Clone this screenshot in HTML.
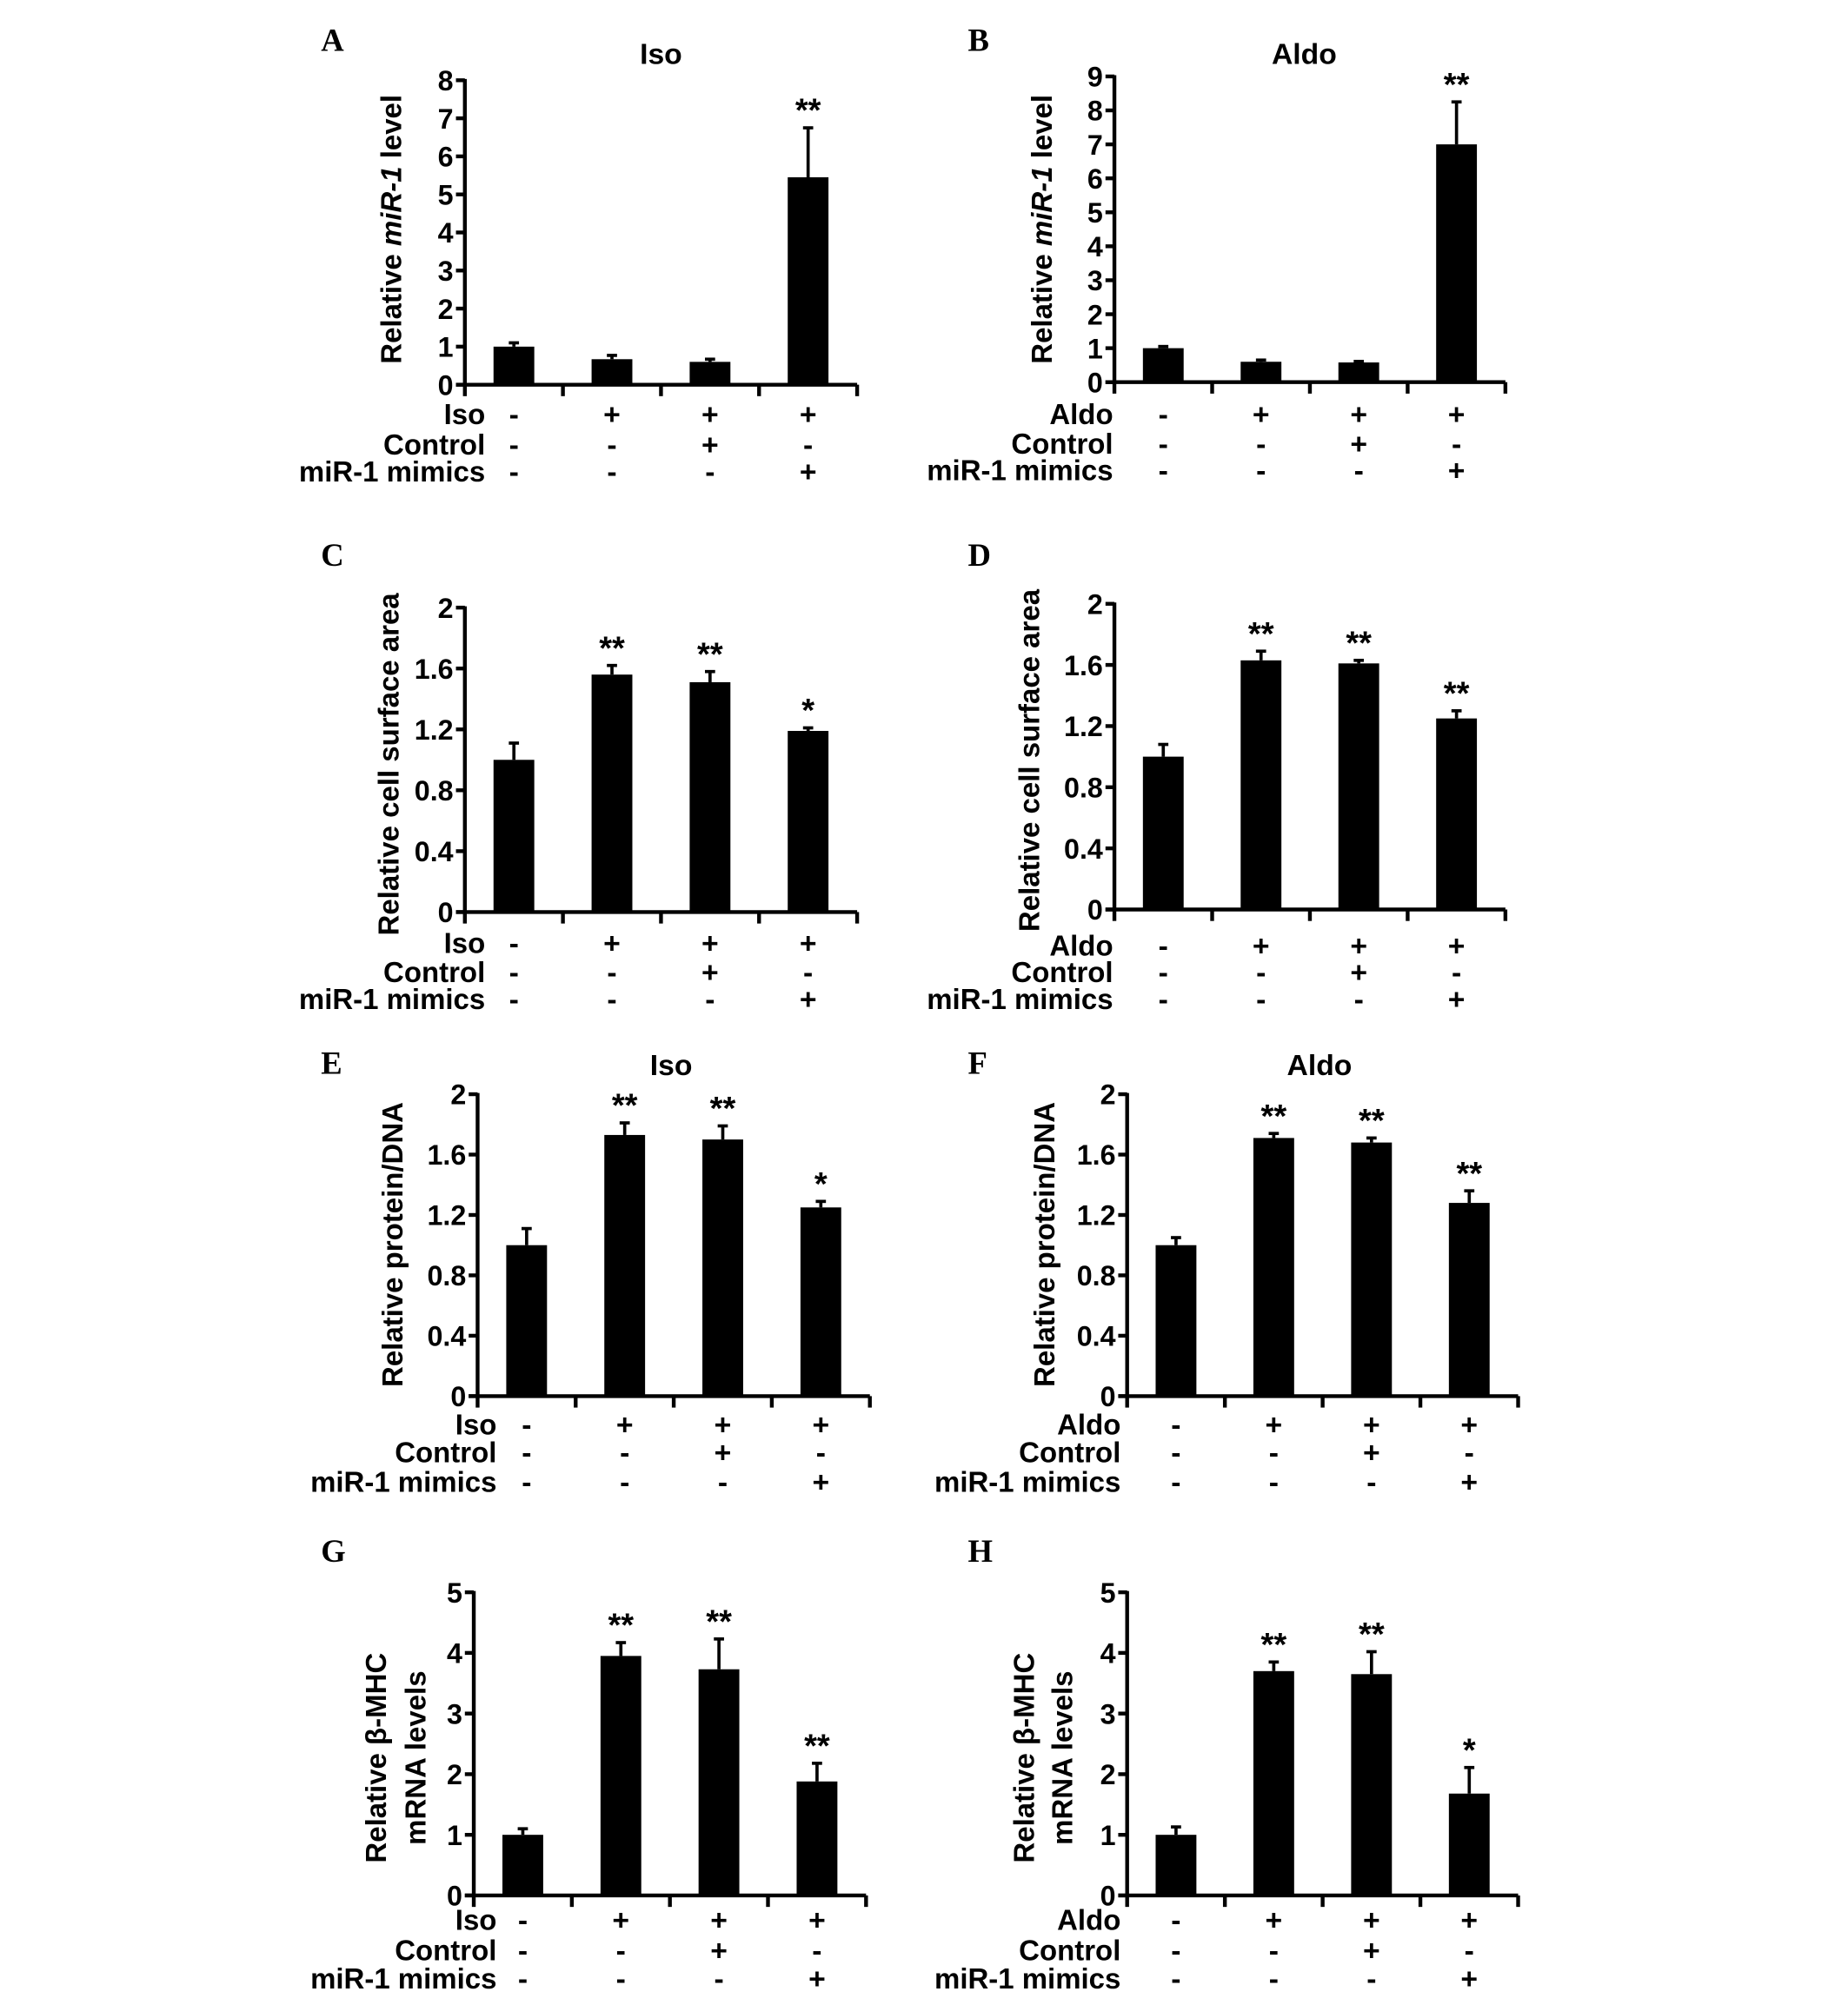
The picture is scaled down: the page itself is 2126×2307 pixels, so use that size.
<!DOCTYPE html>
<html><head><meta charset="utf-8"><style>
html,body{margin:0;padding:0;background:#fff}
svg{display:block}
text{font-family:"Liberation Sans",Arial,sans-serif;font-weight:bold;fill:#000}
.lt{font-family:"Liberation Serif",serif;font-size:25px}
</style></head><body>
<svg id="fig" width="2126" height="2307" viewBox="0 0 1451 1574" preserveAspectRatio="none" xmlns="http://www.w3.org/2000/svg"></svg>
<script>
// ---- data ----
const panelLetters = ["A","B","C","D","E","F","G","H"];
const valuesA = [1.0,0.67,0.6,5.45], errorsA=[0.1,0.1,0.07,1.3], starsA=["","","","**"];
const valuesB = [1.0,0.6,0.58,7.0], errorsB=[0.05,0.05,0.03,1.25], starsB=["","","","**"];
const valuesC = [1.0,1.56,1.51,1.19], errorsC=[0.11,0.06,0.07,0.02], starsC=["","**","**","*"];
const valuesD = [1.0,1.63,1.61,1.25], errorsD=[0.08,0.06,0.02,0.05], starsD=["","**","**","**"];
const valuesE = [1.0,1.73,1.7,1.25], errorsE=[0.11,0.08,0.09,0.04], starsE=["","**","**","*"];
const valuesF = [1.0,1.71,1.68,1.28], errorsF=[0.05,0.03,0.03,0.08], starsF=["","**","**","**"];
const valuesG = [1.0,3.95,3.73,1.88], errorsG=[0.1,0.22,0.5,0.3], starsG=["","**","**","**"];
const valuesH = [1.0,3.7,3.65,1.68], errorsH=[0.13,0.15,0.37,0.43], starsH=["","**","**","*"];
const ticks8 = ["0","1","2","3","4","5","6","7","8"];
const ticks9 = ["0","1","2","3","4","5","6","7","8","9"];
const ticks2 = ["0","0.4","0.8","1.2","1.6","2"];
const ticks5 = ["0","1","2","3","4","5"];
const row2 = ["-","-","+","-"], row3 = ["-","-","-","+"], row1 = ["-","+","+","+"];

const NS="http://www.w3.org/2000/svg";
const svg=document.getElementById('fig');
function mk(tag,attrs,parent,txt){const e=document.createElementNS(NS,tag);for(const k in attrs)e.setAttribute(k,attrs[k]);if(txt!==undefined)e.textContent=txt;(parent||svg).appendChild(e);return e;}

const panels=[
 {id:"a",L:"A",lx:252,ly:40,ax:365,y0:302,yt:63,xe:673,max:8,ticks:ticks8,vals:valuesA,errs:errorsA,stars:starsA,title:"Iso",tx:519,ty:50,yl:["Relative miR-1 level"],ylx:[307],yly:180,tr:"Iso",rx:381,ry:[325,349,370],c0:402},
 {id:"b",L:"B",lx:760,ly:40,ax:875,y0:300,yt:60,xe:1182,max:9,ticks:ticks9,vals:valuesB,errs:errorsB,stars:starsB,title:"Aldo",tx:1024,ty:50,yl:["Relative miR-1 level"],ylx:[818],yly:180,tr:"Aldo",rx:874,ry:[325,348,369],c0:910},
 {id:"c",L:"C",lx:252,ly:444,ax:365,y0:716,yt:477,xe:673,max:2,ticks:ticks2,vals:valuesC,errs:errorsC,stars:starsC,yl:["Relative cell surface area"],ylx:[305],yly:600,tr:"Iso",rx:381,ry:[740,763,784],c0:402},
 {id:"d",L:"D",lx:760,ly:444,ax:875,y0:714,yt:474,xe:1182,max:2,ticks:ticks2,vals:valuesD,errs:errorsD,stars:starsD,yl:["Relative cell surface area"],ylx:[808],yly:597,tr:"Aldo",rx:874,ry:[742,763,784],c0:910},
 {id:"e",L:"E",lx:252,ly:843,ax:375,y0:1096,yt:859,xe:683,max:2,ticks:ticks2,vals:valuesE,errs:errorsE,stars:starsE,title:"Iso",tx:527,ty:844,yl:["Relative protein/DNA"],ylx:[308],yly:977,tr:"Iso",rx:390,ry:[1118,1140,1163],c0:413},
 {id:"f",L:"F",lx:760,ly:843,ax:885,y0:1096,yt:859,xe:1192,max:2,ticks:ticks2,vals:valuesF,errs:errorsF,stars:starsF,title:"Aldo",tx:1036,ty:844,yl:["Relative protein/DNA"],ylx:[820],yly:977,tr:"Aldo",rx:880,ry:[1118,1140,1163],c0:924},
 {id:"g",L:"G",lx:252,ly:1226,ax:372,y0:1488,yt:1250,xe:680,max:5,ticks:ticks5,vals:valuesG,errs:errorsG,stars:starsG,yl:["Relative β-MHC","mRNA levels"],ylx:[295,326],yly:1380,tr:"Iso",rx:390,ry:[1507,1531,1553],c0:408},
 {id:"h",L:"H",lx:760,ly:1226,ax:885,y0:1488,yt:1250,xe:1192,max:5,ticks:ticks5,vals:valuesH,errs:errorsH,stars:starsH,yl:["Relative β-MHC","mRNA levels"],ylx:[804,834],yly:1380,tr:"Aldo",rx:880,ry:[1507,1531,1553],c0:922}
];

panels.forEach(p=>{
 const g=mk('g',{});
 
 
 const yS=v=>p.y0-(v/p.max)*(p.y0-p.yt);
 const step=(p.xe-p.ax)/4;
 const xS=i=>p.ax+step*(i+0.5);
 const lt=mk('text',{x:p.lx,y:p.ly,class:'lt'},g,p.L);
 
 
 if(p.title){const t=mk('text',{x:p.tx,y:p.ty,'text-anchor':'middle','font-size':23},g,p.title);
  
  }
 const ya=mk('line',{x1:p.ax,y1:p.yt-1,x2:p.ax,y2:p.y0+1,stroke:'#000','stroke-width':3},g);
 
 
 const xa=mk('line',{x1:p.ax-7,y1:p.y0,x2:p.xe,y2:p.y0,stroke:'#000','stroke-width':3},g);
 
 
 for(let i=0;i<=4;i++){mk('line',{x1:p.ax+step*i,y1:p.y0,x2:p.ax+step*i,y2:p.y0+9,stroke:'#000','stroke-width':3},g);}
 p.ticks.forEach((t,i)=>{
  const v=parseFloat(t), y=yS(v);
  mk('line',{x1:p.ax-7,y1:y,x2:p.ax,y2:y,stroke:'#000','stroke-width':3},g);
  const tl=mk('text',{x:p.ax-9,y:y+8,'text-anchor':'end','font-size':22},g,t);
  
  
 });
 p.yl.forEach((s,k)=>{
  const t=mk('text',{x:p.ylx[k],y:p.yly,'text-anchor':'middle','font-size':22.5,transform:`rotate(-90 ${p.ylx[k]} ${p.yly})`,dy:8},g);
  
  
  if(s.indexOf('miR-1')>=0){t.appendChild(document.createTextNode('Relative '));mk('tspan',{'font-style':'italic'},t,'miR-1');t.appendChild(document.createTextNode(' level'));}
  else t.textContent=s;
 });
 p.vals.forEach((v,i)=>{
  const cx=xS(i), e=p.errs[i], bw=32;
  const ey=yS(v+e);
  mk('line',{x1:cx,y1:yS(v),x2:cx,y2:ey,stroke:'#000','stroke-width':2.5},g);
  mk('line',{x1:cx-4,y1:ey,x2:cx+4,y2:ey,stroke:'#000','stroke-width':2.5},g);
  const b=mk('rect',{x:cx-bw/2,y:yS(v),width:bw,height:p.y0-yS(v),fill:'#000'},g);
  
  
  if(p.stars[i]){const s=mk('text',{x:cx,y:ey-5,'text-anchor':'middle','font-size':26},g,p.stars[i]);
   
   }
 });
 const names=[p.tr,"Control","miR-1 mimics"], rows=[row1,row2,row3];
 names.forEach((n,r)=>{
  const t=mk('text',{x:p.rx,y:p.ry[r]+8,'text-anchor':'end','font-size':22.5},g,n);
  
  
  rows[r].forEach((s,i)=>{mk('text',{x:xS(i),y:p.ry[r]+8,'text-anchor':'middle','font-size':23},g,s);});
 });
});
</script>
</body></html>
